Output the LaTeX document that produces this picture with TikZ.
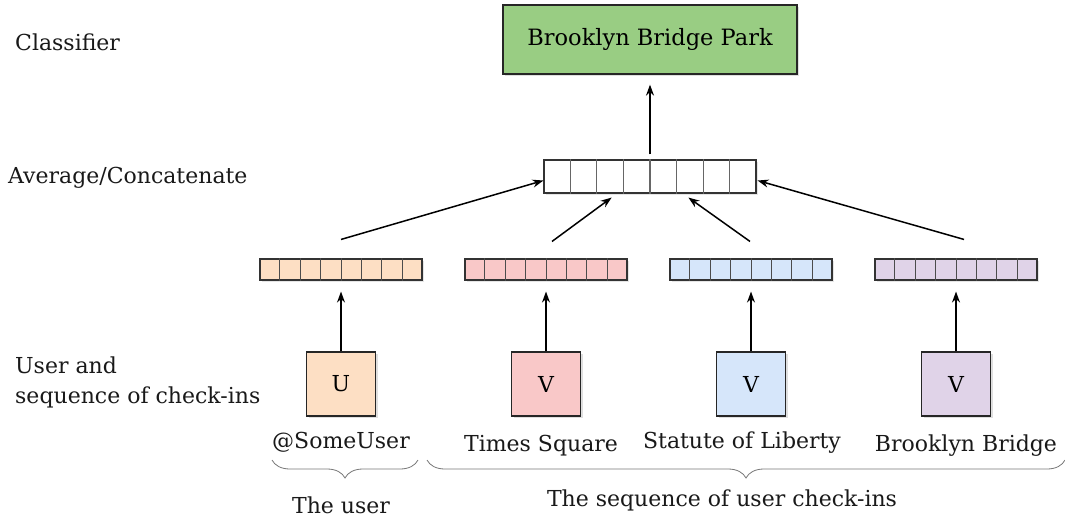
\documentclass[tikz,border=0pt]{standalone}
\usepackage{fontspec}
\setmainfont{DejaVu Serif}
\usetikzlibrary{arrows.meta,calc,shadows,decorations.pathreplacing}
\definecolor{cgreen}{RGB}{153,205,131}
\definecolor{corange}{RGB}{253,223,196}
\definecolor{cpink}{RGB}{249,200,200}
\definecolor{cblue}{RGB}{214,230,250}
\definecolor{cpurple}{RGB}{224,211,232}
\definecolor{cgrayline}{RGB}{120,120,120}
\begin{document}
\begin{tikzpicture}[x=1pt,y=-1pt,
  lbl/.style={font=\fontsize{22}{26}\selectfont, inner sep=0pt, text=black!90},
  leftlbl/.style={lbl, anchor=west, align=left},
  sq/.style={draw=black!85, line width=1.3pt, minimum width=69pt, minimum height=64pt, inner sep=0pt, font=\fontsize{22}{26}\selectfont,
     drop shadow={shadow xshift=2pt, shadow yshift=-2pt, opacity=0.25}},
  vec/.style={draw=black!80, line width=1.1pt, minimum height=21pt, inner sep=0pt,
     drop shadow={shadow xshift=2pt, shadow yshift=-2pt, opacity=0.2}},
  arr/.style={-{Stealth[length=11pt,width=8pt]}, line width=1.5pt, black},
  brc/.style={decorate, decoration={brace, amplitude=18pt, aspect=0.5, mirror}, draw=cgrayline, line width=0.8pt}
]
\useasboundingbox (0,0) rectangle (1065,522);
\fill[white] (0,0) rectangle (1065,522);

% left labels
\node[leftlbl] (lclass) at (15,42) {Classifier};
\node[leftlbl] (lavg) at (8,178) {Average/Concatenate};
\node[leftlbl, align=left, font=\fontsize{22}{30}\selectfont] (luser) at (15,382) {User and\\sequence of check-ins};

% classifier box
\node[draw=black!85, line width=1.3pt, fill=cgreen, minimum width=294pt, minimum height=69pt, inner sep=0pt,
   font=\fontsize{22.5}{26}\selectfont, drop shadow={shadow xshift=2pt, shadow yshift=-2pt, opacity=0.25}] (cls) at (650,39.5) {Brooklyn Bridge Park};

% top vector
\node[vec, fill=white, minimum width=212pt, minimum height=33pt] (top) at (650,176.5) {};
\foreach \i in {1,...,7} \draw[black!60, line width=1.1pt] ($(top.south west)!\i/8!(top.south east)$) -- ($(top.north west)!\i/8!(top.north east)$);

% middle vectors
\node[vec, fill=corange, minimum width=162pt] (v1) at (341,269.5) {};
\node[vec, fill=cpink, minimum width=162pt] (v2) at (546,269.5) {};
\node[vec, fill=cblue, minimum width=162pt] (v3) at (751,269.5) {};
\node[vec, fill=cpurple, minimum width=162pt] (v4) at (956,269.5) {};
\foreach \v in {v1,v2,v3,v4}
  \foreach \i in {1,...,7} \draw[black!70, line width=1pt] ($(\v.south west)!\i/8!(\v.south east)$) -- ($(\v.north west)!\i/8!(\v.north east)$);

% boxes
\node[sq, fill=corange] (b1) at (341,384) {U};
\node[sq, fill=cpink] (b2) at (546,384) {V};
\node[sq, fill=cblue] (b3) at (751,384) {V};
\node[sq, fill=cpurple] (b4) at (956,384) {V};

% names
\node[lbl] (n1) at (341,442) {@SomeUser};
\node[lbl] (n2) at (541,446) {Times Square};
\node[lbl] (n3) at (742,443) {Statute of Liberty};
\node[lbl] (n4) at (966,446) {Brooklyn Bridge};

% braces
\coordinate (bu1) at (272,460);
\coordinate (bu2) at (418,460);
\coordinate (bs1) at (427,460);
\coordinate (bs2) at (1065,460);
\draw[brc] (bu1) -- (bu2);
\draw[brc] (bs1) -- (bs2);
\node[lbl] (tuser) at (341,505) {The user};
\node[lbl] (tseq) at (722,500) {The sequence of user check-ins};

% arrows box -> vector
\foreach \i in {1,2,3,4} \draw[arr] (b\i.north) -- ($(v\i.south)+(0,11)$);

% vectors -> top
\draw[arr] ($(v1.north)+(0,-19)$) -- ($(top.west)+(0,4)$);
\draw[arr] ($(v2.north)+(6,-17)$) -- ($(top.south west)!0.32!(top.south east)+(0,4)$);
\draw[arr] ($(v3.north)+(-1,-17)$) -- ($(top.south west)!0.68!(top.south east)+(0,4)$);
\draw[arr] ($(v4.north)+(8,-19)$) -- ($(top.east)+(1,4)$);
\draw[arr] ($(top.north)+(0,-5)$) -- ($(cls.south)+(0,10)$);
\end{tikzpicture}
\end{document}
